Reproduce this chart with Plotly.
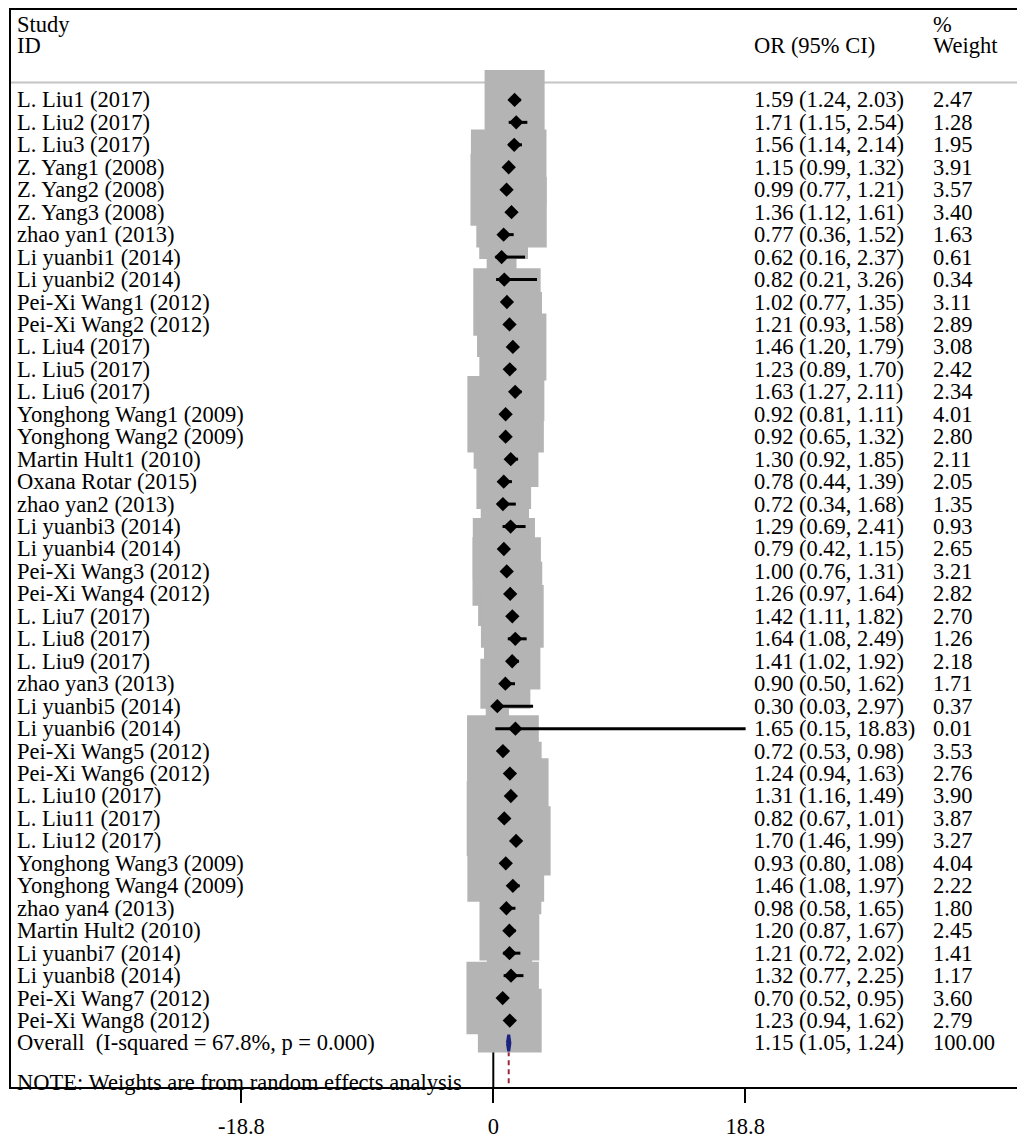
import plotly.graph_objects as go
import math

studies = [
    "L. Liu1 (2017)", "L. Liu2 (2017)", "L. Liu3 (2017)", "Z. Yang1 (2008)", "Z. Yang2 (2008)",
    "Z. Yang3 (2008)", "zhao yan1 (2013)", "Li yuanbi1 (2014)", "Li yuanbi2 (2014)",
    "Pei-Xi Wang1 (2012)", "Pei-Xi Wang2 (2012)", "L. Liu4 (2017)", "L. Liu5 (2017)",
    "L. Liu6 (2017)", "Yonghong Wang1 (2009)", "Yonghong Wang2 (2009)", "Martin Hult1 (2010)",
    "Oxana Rotar (2015)", "zhao yan2 (2013)", "Li yuanbi3 (2014)", "Li yuanbi4 (2014)",
    "Pei-Xi Wang3 (2012)", "Pei-Xi Wang4 (2012)", "L. Liu7 (2017)", "L. Liu8 (2017)",
    "L. Liu9 (2017)", "zhao yan3 (2013)", "Li yuanbi5 (2014)", "Li yuanbi6 (2014)",
    "Pei-Xi Wang5 (2012)", "Pei-Xi Wang6 (2012)", "L. Liu10 (2017)", "L. Liu11 (2017)",
    "L. Liu12 (2017)", "Yonghong Wang3 (2009)", "Yonghong Wang4 (2009)", "zhao yan4 (2013)",
    "Martin Hult2 (2010)", "Li yuanbi7 (2014)", "Li yuanbi8 (2014)", "Pei-Xi Wang7 (2012)",
    "Pei-Xi Wang8 (2012)",
]
or_est = [1.59, 1.71, 1.56, 1.15, 0.99, 1.36, 0.77, 0.62, 0.82, 1.02, 1.21, 1.46, 1.23, 1.63,
          0.92, 0.92, 1.30, 0.78, 0.72, 1.29, 0.79, 1.00, 1.26, 1.42, 1.64, 1.41, 0.90, 0.30,
          1.65, 0.72, 1.24, 1.31, 0.82, 1.70, 0.93, 1.46, 0.98, 1.20, 1.21, 1.32, 0.70, 1.23]
ci_low = [1.24, 1.15, 1.14, 0.99, 0.77, 1.12, 0.36, 0.16, 0.21, 0.77, 0.93, 1.20, 0.89, 1.27,
          0.81, 0.65, 0.92, 0.44, 0.34, 0.69, 0.42, 0.76, 0.97, 1.11, 1.08, 1.02, 0.50, 0.03,
          0.15, 0.53, 0.94, 1.16, 0.67, 1.46, 0.80, 1.08, 0.58, 0.87, 0.72, 0.77, 0.52, 0.94]
ci_high = [2.03, 2.54, 2.14, 1.32, 1.21, 1.61, 1.52, 2.37, 3.26, 1.35, 1.58, 1.79, 1.70, 2.11,
           1.11, 1.32, 1.85, 1.39, 1.68, 2.41, 1.15, 1.31, 1.64, 1.82, 2.49, 1.92, 1.62, 2.97,
           18.83, 0.98, 1.63, 1.49, 1.01, 1.99, 1.08, 1.97, 1.65, 1.67, 2.02, 2.25, 0.95, 1.62]
weights = [2.47, 1.28, 1.95, 3.91, 3.57, 3.40, 1.63, 0.61, 0.34, 3.11, 2.89, 3.08, 2.42, 2.34,
           4.01, 2.80, 2.11, 2.05, 1.35, 0.93, 2.65, 3.21, 2.82, 2.70, 1.26, 2.18, 1.71, 0.37,
           0.01, 3.53, 2.76, 3.90, 3.87, 3.27, 4.04, 2.22, 1.80, 2.45, 1.41, 1.17, 3.60, 2.79]

overall_label = "Overall\u00a0\u00a0(I-squared = 67.8%, p = 0.000)"
overall_est, overall_low, overall_high, overall_weight = 1.15, 1.05, 1.24, 100.00
note_text = "NOTE: Weights are from random effects analysis"
tick_vals = [-18.8, 0, 18.8]
tick_text = ["-18.8", "0", "18.8"]

FONT = "Liberation Serif, Times New Roman, serif"
FS = 22.5
n = len(studies)
rows = list(range(n))
overall_row = n
note_row = n + 1.75
header_line_row = -0.774

fig = go.Figure()

# weight boxes (side proportional to sqrt(weight))
box_k = 38.2
fig.add_trace(go.Scatter(
    x=or_est, y=rows, mode="markers",
    marker=dict(symbol="square", size=[box_k * math.sqrt(w) for w in weights],
                color="#b4b4b4", opacity=1, line=dict(width=0)),
    hoverinfo="skip", showlegend=False))

# CI lines
cx, cy = [], []
for lo, hi, r in zip(ci_low, ci_high, rows):
    cx += [lo, hi, None]
    cy += [r, r, None]
fig.add_trace(go.Scatter(x=cx, y=cy, mode="lines", line=dict(color="black", width=3),
                         hoverinfo="skip", showlegend=False))

# point estimates
fig.add_trace(go.Scatter(x=or_est, y=rows, mode="markers",
                         marker=dict(symbol="diamond", size=11, color="black", opacity=1),
                         hoverinfo="skip", showlegend=False))

# overall diamond
dh = 0.37
fig.add_trace(go.Scatter(
    x=[overall_low, overall_est, overall_high, overall_est, overall_low],
    y=[overall_row, overall_row - dh, overall_row, overall_row + dh, overall_row],
    mode="lines", fill="toself", fillcolor="#1a2380", line=dict(color="#1a2380", width=3),
    hoverinfo="skip", showlegend=False))

y_bottom = 43.96
y_top = -4.004

shapes = [
    dict(type="line", xref="paper", x0=0, x1=1, yref="y", y0=header_line_row, y1=header_line_row,
         line=dict(color="#c4c4c4", width=2), layer="below"),
    dict(type="line", xref="x", x0=0, x1=0, yref="y", y0=header_line_row, y1=y_bottom,
         line=dict(color="black", width=2), layer="below"),
    dict(type="line", xref="x", x0=overall_est, x1=overall_est, yref="y",
         y0=overall_row + dh, y1=y_bottom,
         line=dict(color="#9a2a3a", width=2, dash="5px,4px"), layer="below"),
]

ann = []
def txt(x, y, s):
    ann.append(dict(x=x, y=y, xref="paper", yref="y", text=s, showarrow=False,
                    xanchor="left", yanchor="middle", font=dict(family=FONT, size=FS, color="black")))

x_study, x_or, x_w = 0.004, 0.737, 0.9146
y_h1, y_h2 = -3.38, -2.42
txt(x_study, y_h1, "Study")
txt(x_study, y_h2, "ID")
txt(x_or, y_h2, "OR (95% CI)")
txt(x_w, y_h1, "%")
txt(x_w, y_h2, "Weight")
for s, e, lo, hi, w, r in zip(studies, or_est, ci_low, ci_high, weights, rows):
    txt(x_study, r, s)
    txt(x_or, r, f"{e:.2f} ({lo:.2f}, {hi:.2f})")
    txt(x_w, r, f"{w:.2f}")
txt(x_study, overall_row, overall_label)
txt(x_or, overall_row, f"{overall_est:.2f} ({overall_low:.2f}, {overall_high:.2f})")
txt(x_w, overall_row, f"{overall_weight:.2f}")
txt(x_study, note_row, note_text)

fig.update_layout(
    width=1017, height=1131, autosize=False,
    margin=dict(l=3, r=8, t=0, b=47, pad=0),
    paper_bgcolor="white", plot_bgcolor="white",
    shapes=shapes, annotations=ann, showlegend=False,
    xaxis=dict(range=[-35.99, 39.08], tickvals=tick_vals, ticktext=tick_text,
               ticks="outside", ticklen=14, tickwidth=2, tickcolor="black",
               ticklabelstandoff=4,
               showline=True, linewidth=2, linecolor="black", mirror=True,
               showgrid=False, zeroline=False,
               tickfont=dict(family=FONT, size=FS, color="black")),
    yaxis=dict(range=[y_bottom, y_top], showticklabels=False, ticks="",
               showline=True, linewidth=2, linecolor="black", mirror=True,
               showgrid=False, zeroline=False),
)

fig.write_html("out.html")
